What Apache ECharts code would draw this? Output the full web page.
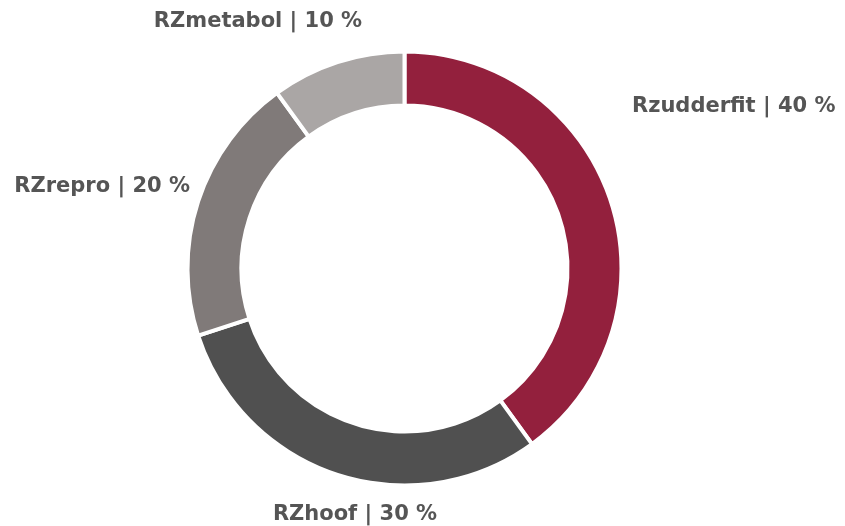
<!DOCTYPE html>
<html lang="en">
<head>
    <meta charset="utf-8">
    <title>RZ donut</title>
    <style>
        html, body { margin: 0; padding: 0; background: #fff; }
        #chart { width: 845px; height: 526px; }
    </style>
</head>
<body>
<div id="chart"></div>
<script src="https://cdn.jsdelivr.net/npm/echarts@6/dist/echarts.min.js"></script>
<script>
    var categories = ['Rzudderfit', 'RZhoof', 'RZrepro', 'RZmetabol'];
    var values = [40, 30, 20, 10];
    var colors = ['#93203d', '#505050', '#807a79', '#aaa6a5'];

    // label placement (x, y, align) per slice
    var labelSpots = [
        {x: 632, y: 107, align: 'left'},
        {x: 355, y: 515, align: 'center'},
        {x: 190, y: 187, align: 'right'},
        {x: 258, y: 22, align: 'center'}
    ];

    var pieData = categories.map(function (name, i) {
        return {name: name, value: values[i], itemStyle: {color: colors[i]}};
    });

    var myChart = echarts.init(document.getElementById('chart'));
    var option = {
        animation: false,
        series: [{
            type: 'pie',
            center: [404.5, 268.5],
            radius: [163, 217],
            startAngle: 90,
            data: pieData,
            itemStyle: {
                borderColor: '#ffffff',
                borderWidth: 4
            },
            label: {
                show: true,
                position: 'outside',
                formatter: '{b} | {c} %',
                color: '#555555',
                fontFamily: 'DejaVu Sans',
                fontWeight: 'bold',
                fontSize: 21,
                overflow: 'none'
            },
            labelLine: {show: false},
            labelLayout: function (params) {
                var s = labelSpots[params.dataIndex];
                return {x: s.x, y: s.y, align: s.align, verticalAlign: 'middle'};
            },
            emphasis: {disabled: true}
        }]
    };
    myChart.setOption(option);
</script>
</body>
</html>
